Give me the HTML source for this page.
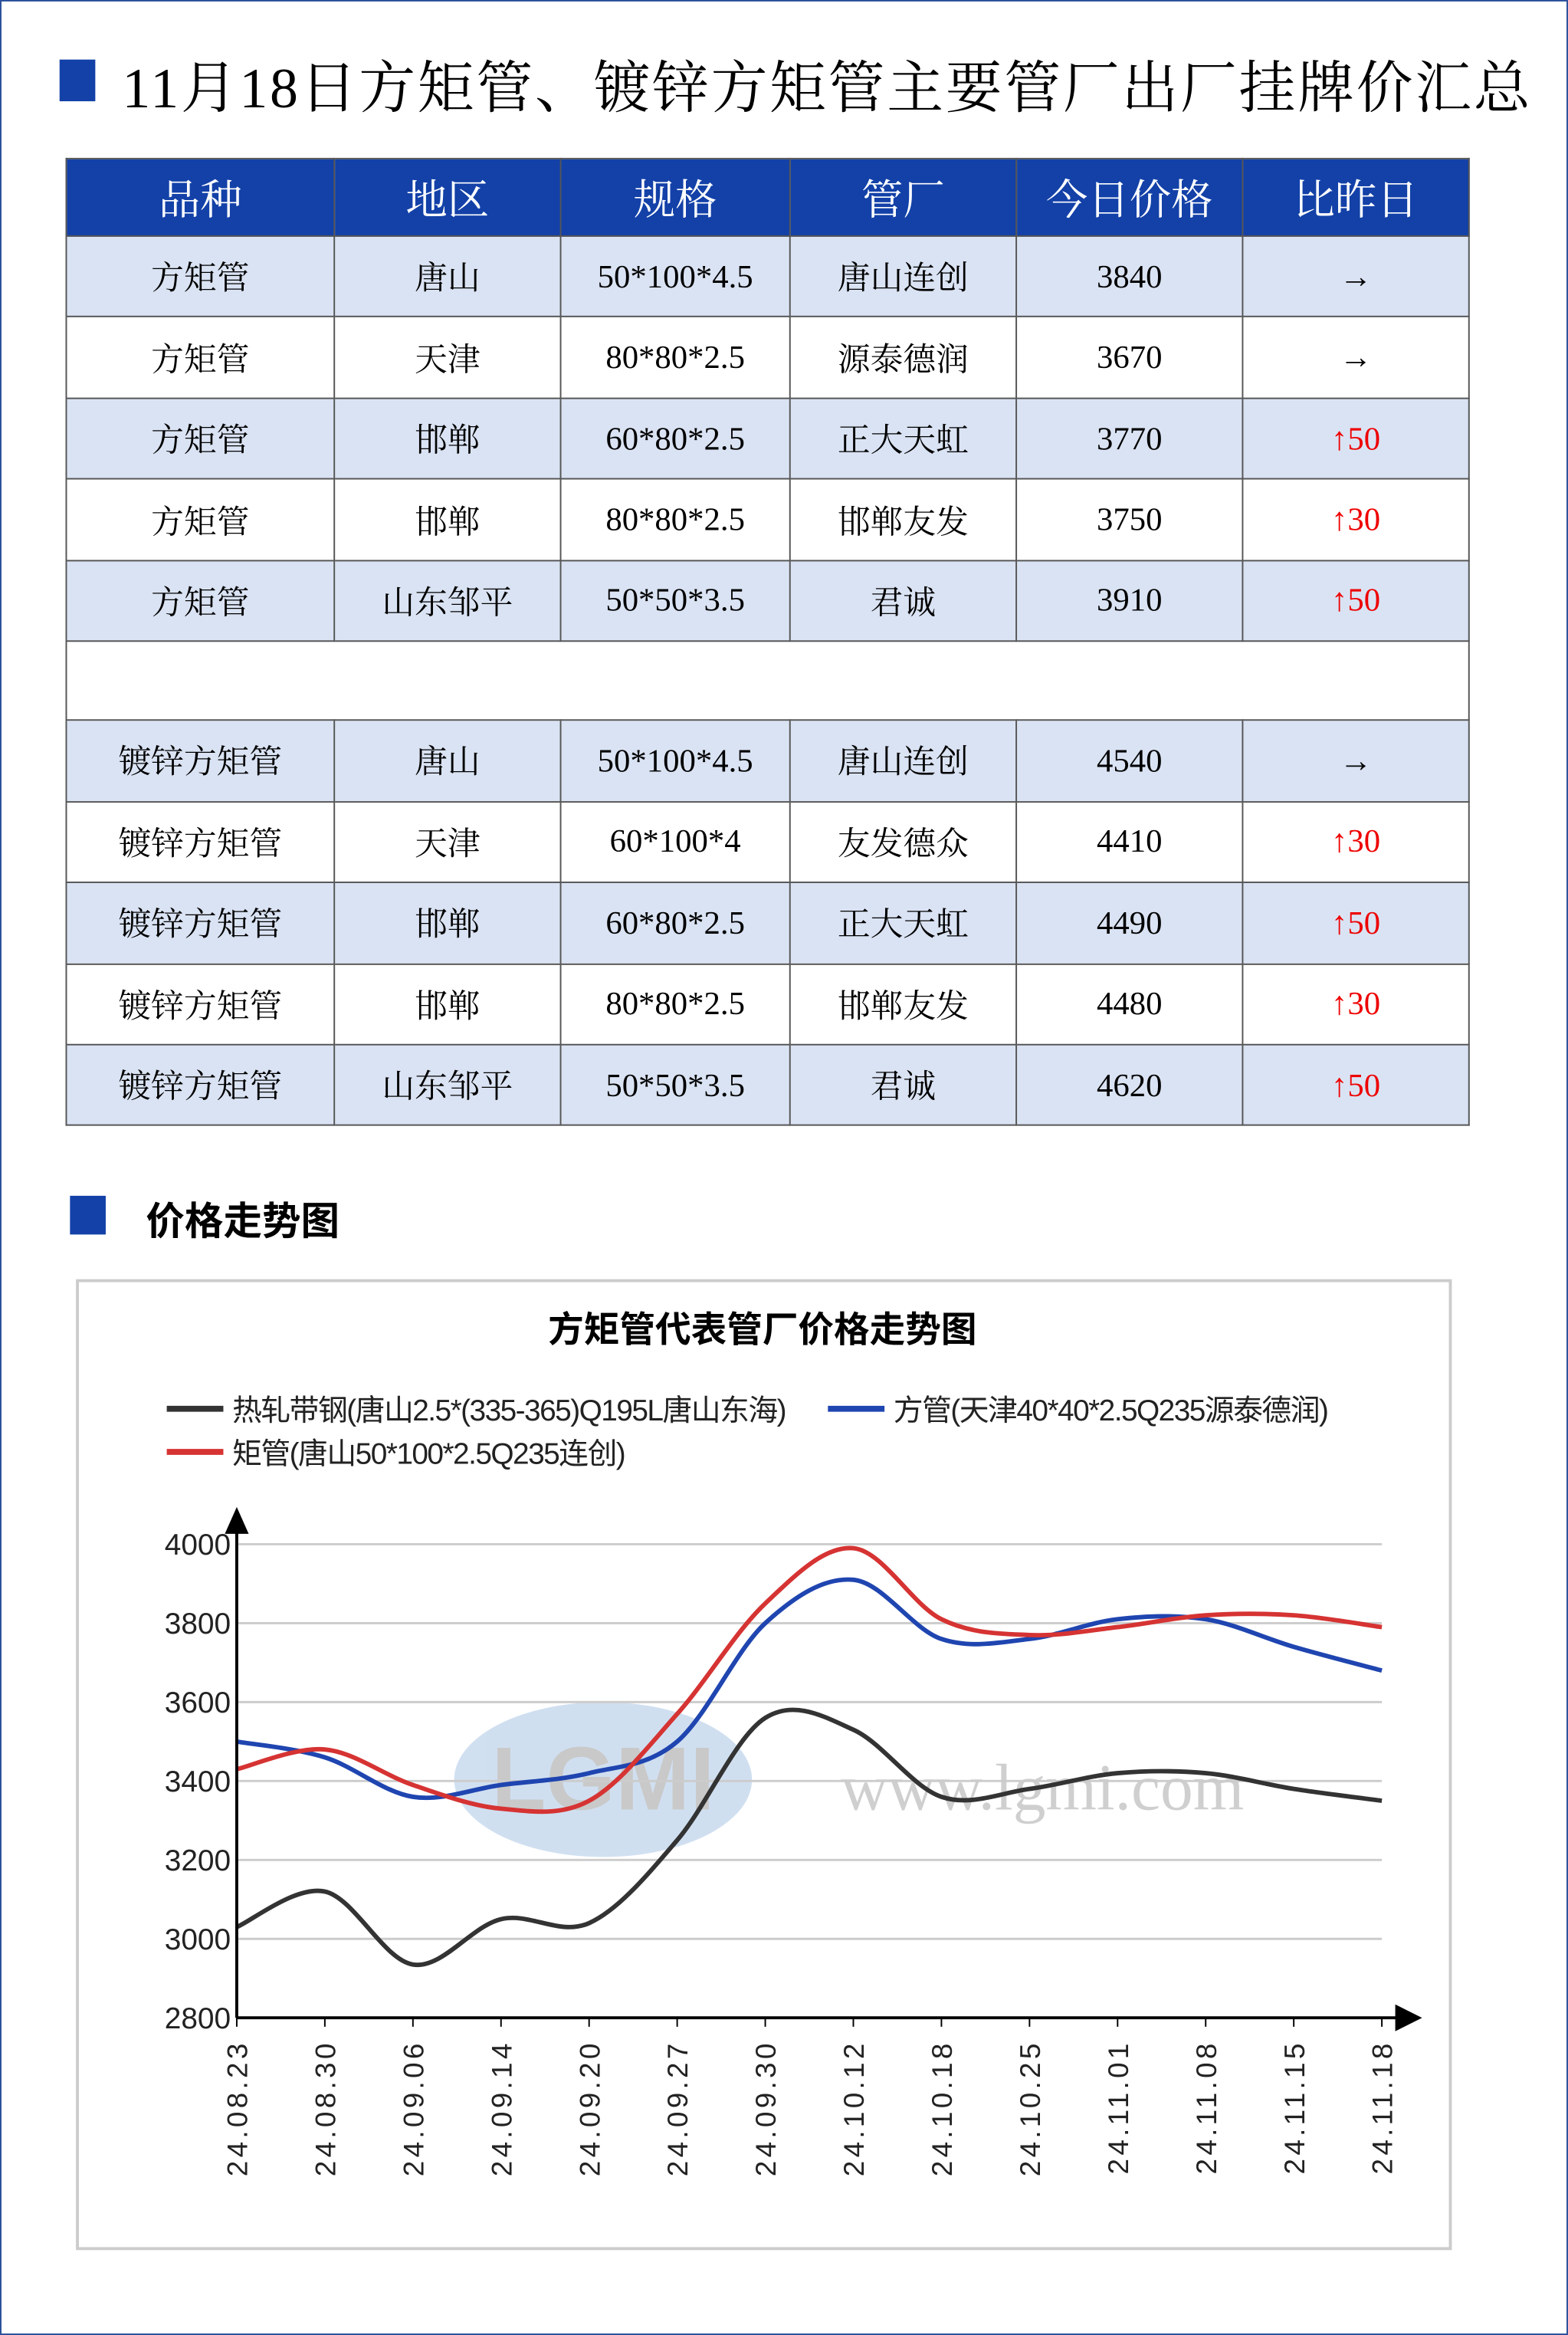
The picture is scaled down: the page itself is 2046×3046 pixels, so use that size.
<!DOCTYPE html>
<html><head><meta charset="utf-8">
<style>
html,body{margin:0;padding:0;background:#fff;}
body{width:2046px;height:3046px;overflow:hidden;position:relative;}
#wrap{position:absolute;left:0;top:0;width:1053px;height:1568px;transform:scale(1.943,1.9426);transform-origin:0 0;}
.frame{position:absolute;left:0;top:0;width:1051px;height:1566px;border:1px solid #2a4f9a;}
.sq{position:absolute;background:#1341a8;}
.title{position:absolute;left:82px;top:28px;font:38px "Liberation Serif","Noto Serif CJK SC",serif;color:#000;white-space:nowrap;letter-spacing:1.4px;}
table{position:absolute;left:44px;top:106px;border-collapse:collapse;font-family:"Liberation Serif","Noto Serif CJK SC",serif;}
td,th{border:1px solid #555;text-align:center;padding:0;}
th{background:#1341a8;color:#fff;font-weight:normal;font-size:28px;height:51px;}
td{font-size:22px;height:53.45px;}
tr.a td{background:#dae3f3;}
.up{color:#e00;}
.sec{position:absolute;left:98px;top:800px;font:bold 26px "Liberation Sans","Noto Sans CJK SC",sans-serif;}
</style></head><body>
<div id="wrap">
<div class="frame"></div>
<div class="sq" style="left:40px;top:40px;width:24px;height:28px;"></div>
<div class="title">11月18日方矩管、镀锌方矩管主要管厂出厂挂牌价汇总</div>
<table>
<colgroup><col style="width:180px"><col style="width:152px"><col style="width:154px"><col style="width:152px"><col style="width:152px"><col style="width:152px"></colgroup>
<tr><th>品种</th><th>地区</th><th>规格</th><th>管厂</th><th>今日价格</th><th>比昨日</th></tr>
<tr class="a"><td>方矩管</td><td>唐山</td><td>50*100*4.5</td><td>唐山连创</td><td>3840</td><td>→</td></tr>
<tr><td>方矩管</td><td>天津</td><td>80*80*2.5</td><td>源泰德润</td><td>3670</td><td>→</td></tr>
<tr class="a"><td>方矩管</td><td>邯郸</td><td>60*80*2.5</td><td>正大天虹</td><td>3770</td><td class="up">↑50</td></tr>
<tr><td>方矩管</td><td>邯郸</td><td>80*80*2.5</td><td>邯郸友发</td><td>3750</td><td class="up">↑30</td></tr>
<tr class="a"><td>方矩管</td><td>山东邹平</td><td>50*50*3.5</td><td>君诚</td><td>3910</td><td class="up">↑50</td></tr>
<tr><td colspan="6" style="height:52px"></td></tr>
<tr class="a"><td>镀锌方矩管</td><td>唐山</td><td>50*100*4.5</td><td>唐山连创</td><td>4540</td><td>→</td></tr>
<tr><td>镀锌方矩管</td><td>天津</td><td>60*100*4</td><td>友发德众</td><td>4410</td><td class="up">↑30</td></tr>
<tr class="a"><td>镀锌方矩管</td><td>邯郸</td><td>60*80*2.5</td><td>正大天虹</td><td>4490</td><td class="up">↑50</td></tr>
<tr><td>镀锌方矩管</td><td>邯郸</td><td>80*80*2.5</td><td>邯郸友发</td><td>4480</td><td class="up">↑30</td></tr>
<tr class="a"><td>镀锌方矩管</td><td>山东邹平</td><td>50*50*3.5</td><td>君诚</td><td>4620</td><td class="up">↑50</td></tr>
</table>
<div class="sq" style="left:47px;top:803px;width:24px;height:26px;"></div>
<div class="sec">价格走势图</div>
<svg id="chart" style="position:absolute;left:0;top:0" width="1053" height="1568" font-family="Liberation Sans, Noto Sans CJK SC, sans-serif">
<rect x="52" y="860" width="922" height="650" fill="#fff" stroke="#ccc" stroke-width="2"/>
<text x="512" y="901" text-anchor="middle" font-size="24" font-weight="bold">方矩管代表管厂价格走势图</text>
<g id="watermark" opacity="0.35">
<ellipse cx="405" cy="1195" rx="100" ry="52" fill="#7aa6d6"/>
<text x="405" y="1215" text-anchor="middle" font-size="60" font-weight="bold" fill="#666">LGMI</text>
<text x="700" y="1215" text-anchor="middle" font-size="44" font-family="Liberation Serif, serif" fill="#777">www.lgmi.com</text>
</g>
<g id="grid"></g><g id="series"></g><g id="axes"></g><g id="legend"></g>
</svg>
</div>
<script>
const categories=["24.08.23","24.08.30","24.09.06","24.09.14","24.09.20","24.09.27","24.09.30","24.10.12","24.10.18","24.10.25","24.11.01","24.11.08","24.11.15","24.11.18"];
const hotRolled=[3030,3120,2935,3050,3040,3250,3560,3530,3360,3380,3420,3420,3380,3350];
const squarePipe=[3500,3460,3360,3390,3420,3500,3800,3910,3760,3760,3810,3810,3740,3680];
const rectPipe=[3430,3480,3390,3330,3350,3570,3850,3990,3810,3770,3790,3820,3820,3790];
const yTicks=[2800,3000,3200,3400,3600,3800,4000];
const seriesNames=["热轧带钢(唐山2.5*(335-365)Q195L唐山东海)","方管(天津40*40*2.5Q235源泰德润)","矩管(唐山50*100*2.5Q235连创)"];
const NS="http://www.w3.org/2000/svg";
const X0=159,X1=928,Y0=1355,Y1=1037;
const xs=i=>X0+(X1-X0)*i/(categories.length-1);
const ys=v=>Y0-(v-2800)/(4000-2800)*(Y0-Y1);
function mk(t,a,p){const e=document.createElementNS(NS,t);for(const k in a)e.setAttribute(k,a[k]);p.appendChild(e);return e;}
const grid=document.getElementById('grid'),axes=document.getElementById('axes'),ser=document.getElementById('series'),leg=document.getElementById('legend');
yTicks.forEach(v=>{
 if(v>2800){const l=mk('line',{x1:X0,x2:X1,y1:ys(v),y2:ys(v),stroke:'#ccc','stroke-width':1.5},grid);
 
 }
 const t=mk('text',{x:X0-4,y:ys(v)+7,'text-anchor':'end','font-size':20,fill:'#222'},axes);t.textContent=v;
 
 
});
mk('line',{x1:X0,x2:X0,y1:Y0,y2:1020,stroke:'#000','stroke-width':2},axes);
mk('polygon',{points:`${X0-8},1030 ${X0+8},1030 ${X0},1012`,fill:'#000'},axes);
mk('line',{x1:X0,x2:945,y1:Y0,y2:Y0,stroke:'#000','stroke-width':2},axes);
mk('polygon',{points:`937,${Y0-9} 937,${Y0+9} 955,${Y0}`,fill:'#000'},axes);
categories.forEach((c,i)=>{
 mk('line',{x1:xs(i),x2:xs(i),y1:Y0,y2:Y0+6,stroke:'#000'},axes);
 const t=mk('text',{x:0,y:0,transform:`translate(${xs(i)+7},1370) rotate(-90)`,'text-anchor':'end','font-size':19,fill:'#222','letter-spacing':'2.2'},axes);
 t.textContent=c;
 
 
});
function path(vals){
 const p=vals.map((v,i)=>[xs(i),ys(v)]);let d=`M${p[0][0]},${p[0][1]}`;
 for(let i=0;i<p.length-1;i++){const a=p[Math.max(0,i-1)],b=p[i],c=p[i+1],e=p[Math.min(p.length-1,i+2)];
  d+=` C${b[0]+(c[0]-a[0])/6},${b[1]+(c[1]-a[1])/6} ${c[0]-(e[0]-b[0])/6},${c[1]-(e[1]-b[1])/6} ${c[0]},${c[1]}`;}
 return d;}
const cols=['#333','#1f45b0','#d63333'];
[hotRolled,squarePipe,rectPipe].forEach((s,k)=>{
 const p=mk('path',{d:path(s),fill:'none',stroke:cols[k],'stroke-width':3},ser);
 
 
});
const lp=[[112,946],[556,946],[112,975]];
seriesNames.forEach((n,k)=>{
 const g=mk('g',{},leg);
 
 
 mk('line',{x1:lp[k][0],x2:lp[k][0]+38,y1:lp[k][1],y2:lp[k][1],stroke:cols[k],'stroke-width':4},g);
 const t=mk('text',{x:lp[k][0]+44,y:lp[k][1]+8,'font-size':20,fill:'#222','letter-spacing':'-0.8'},g);t.textContent=n;
});
</script>
</body></html>
